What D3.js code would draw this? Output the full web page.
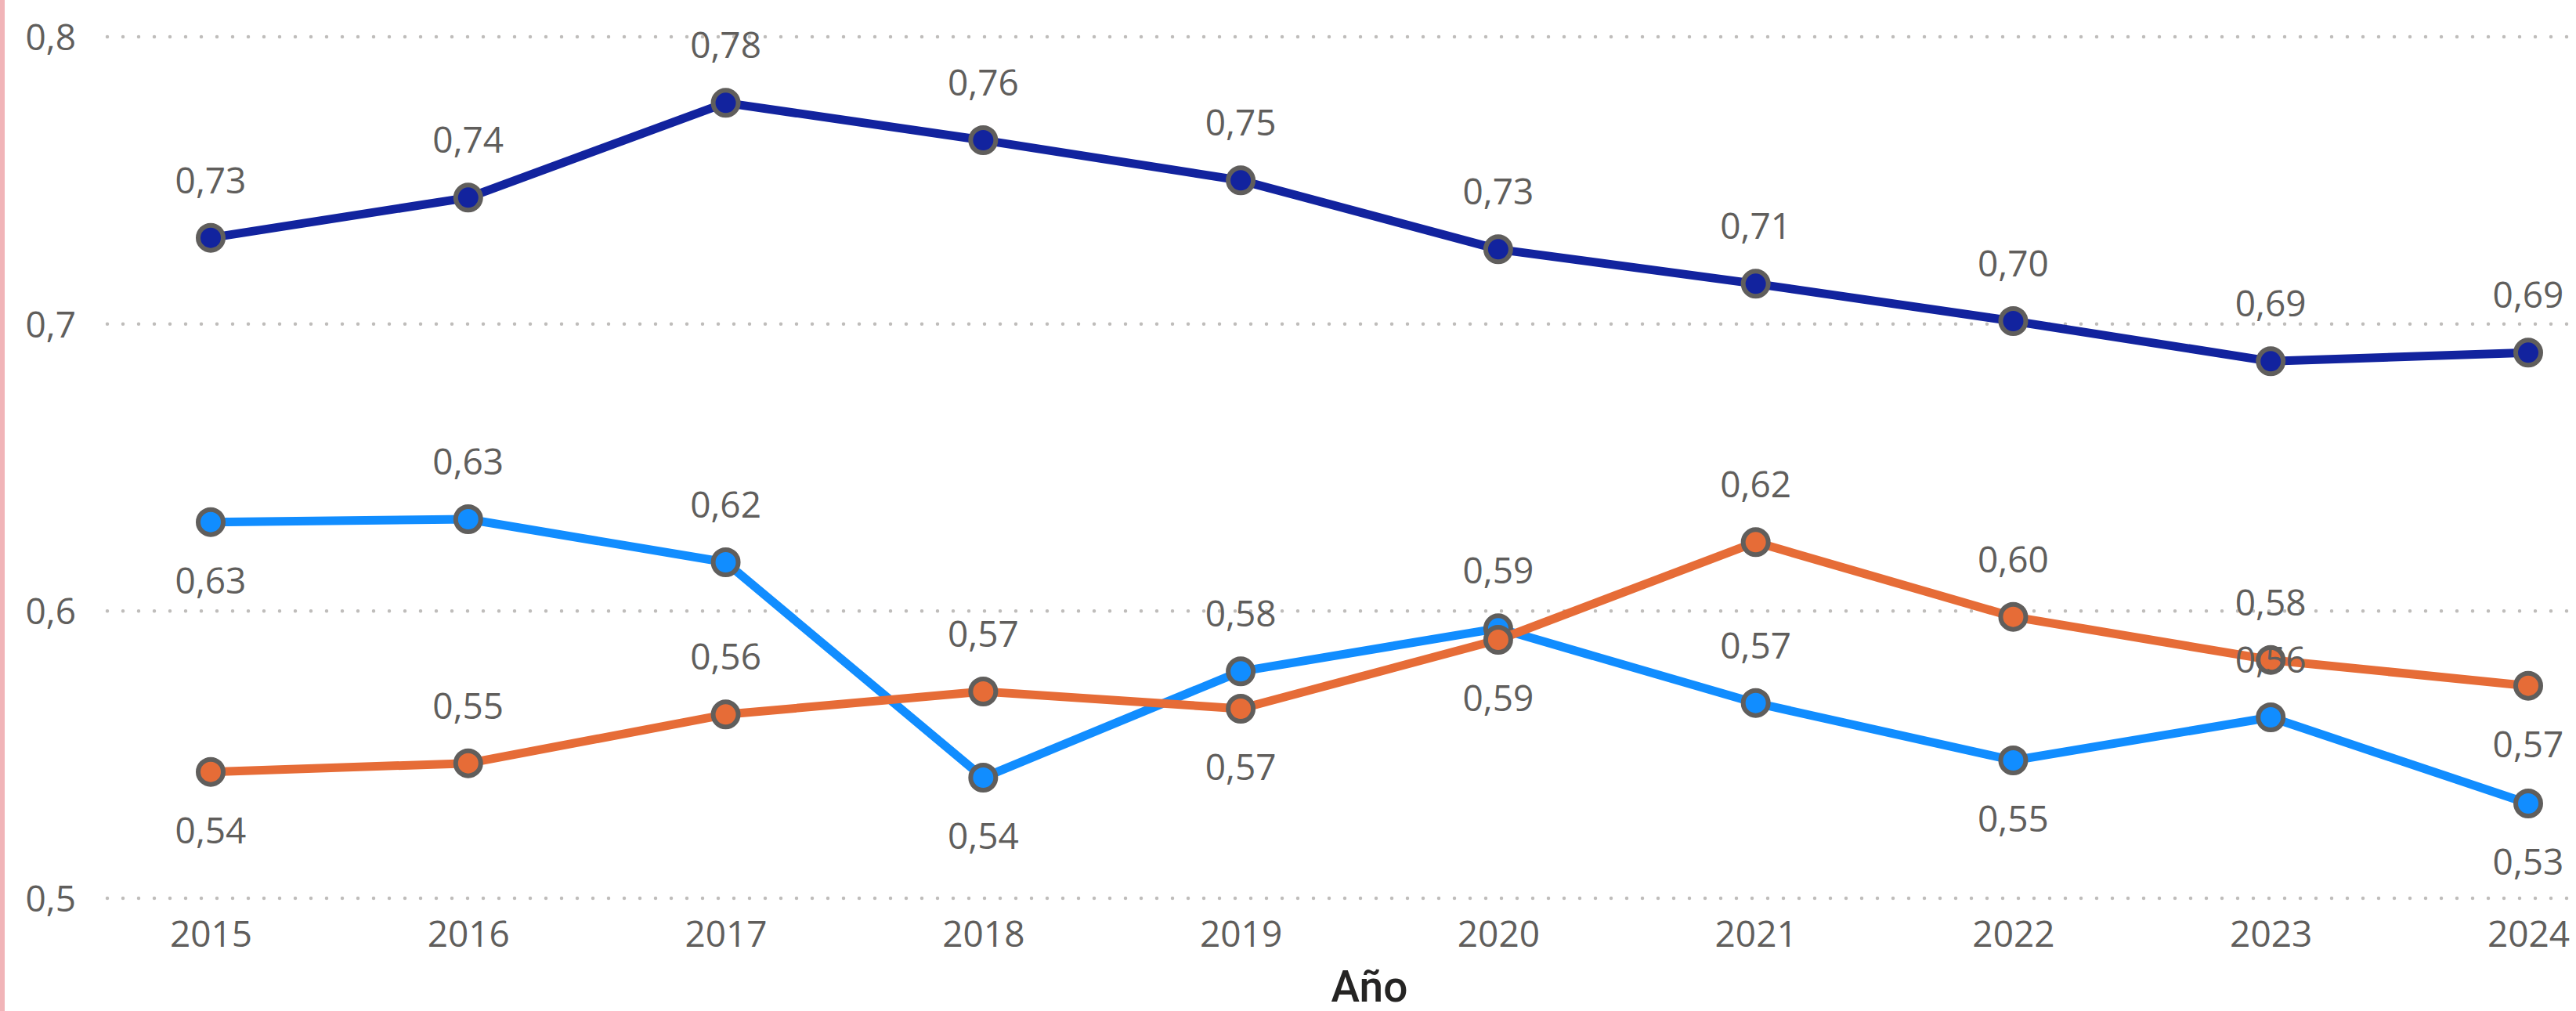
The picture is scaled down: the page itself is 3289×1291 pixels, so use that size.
<!DOCTYPE html>
<html>
<head>
<meta charset="utf-8">
<script src="https://cdn.jsdelivr.net/npm/d3@7"></script>
<style>
  html, body { margin: 0; padding: 0; background: #fff; }
  svg { display: block; }
</style>
</head>
<body>
<div id="chart"></div>
<script>
// years on the x axis
var years = ["2015", "2016", "2017", "2018", "2019", "2020", "2021", "2022", "2023", "2024"];
var yTicks = [0.5, 0.6, 0.7, 0.8];

// the three series
var darkBlue  = [0.730, 0.744, 0.777, 0.764, 0.750, 0.726, 0.714, 0.701, 0.687, 0.690];
var lightBlue = [0.631, 0.632, 0.617, 0.542, 0.579, 0.594, 0.568, 0.548, 0.563, 0.533];
var orange    = [0.544, 0.547, 0.564, 0.572, 0.566, 0.590, 0.624, 0.598, 0.583, 0.574];

// where each data label sits: "a" above the point, "b" below
var darkBlueLabelPos  = ["a","a","a","a","a","a","a","a","a","a"];
var lightBlueLabelPos = ["b","a","a","b","a","a","a","b","a","b"];
var orangeLabelPos    = ["b","a","a","a","b","b","a","a","a","b"];

var W = 3289, H = 1291;
var svg = d3.select("#chart").append("svg")
  .attr("width", W)
  .attr("height", H);

// pink strip on the left edge
svg.append("rect")
  .attr("x", 0).attr("y", 0)
  .attr("width", 6).attr("height", H)
  .attr("fill", "#f1b4b8");

var x = d3.scalePoint().domain(years).range([269, 3228]);
var y = d3.scaleLinear().domain([0.5, 0.8]).range([1147, 47]);

var fmt = function(v) { return d3.format(".2f")(v).replace(".", ","); };
var tickFmt = function(v) { return d3.format(".1f")(v).replace(".", ","); };

// dotted gridlines
svg.append("g").selectAll("line")
  .data(yTicks)
  .join("line")
    .attr("x1", 137).attr("x2", W)
    .attr("y1", d => y(d)).attr("y2", d => y(d))
    .attr("stroke", "#bfbdbb")
    .attr("stroke-width", 4.5)
    .attr("stroke-linecap", "round")
    .attr("stroke-dasharray", "0,20");

// y axis labels
var yAxis = d3.axisLeft(y).tickValues(yTicks).tickFormat(tickFmt).tickSize(0).tickPadding(0);
svg.append("g")
  .attr("transform", "translate(97,0)")
  .call(yAxis)
  .call(g => g.select(".domain").remove())
  .selectAll("text")
    .attr("font-family", "'Open Sans', 'Noto Sans', sans-serif")
    .attr("font-size", 46)
    .attr("fill", "#605e5c")
    .attr("dy", "0.36em");

// x axis labels
var xAxis = d3.axisBottom(x).tickSize(0).tickPadding(0);
svg.append("g")
  .attr("transform", "translate(0,1176)")
  .call(xAxis)
  .call(g => g.select(".domain").remove())
  .selectAll("text")
    .attr("font-family", "'Open Sans', 'Noto Sans', sans-serif")
    .attr("font-size", 46)
    .attr("fill", "#605e5c")
    .attr("dy", "0.71em");

// axis title
svg.append("text")
  .attr("x", (x("2015") + x("2024")) / 2)
  .attr("y", 1279)
  .attr("text-anchor", "middle")
  .attr("font-family", "Roboto, 'Liberation Sans', sans-serif")
  .attr("font-weight", 500)
  .attr("font-size", 55)
  .attr("fill", "#252423")
  .text("Año");

var series = [
  { values: darkBlue,  color: "#12239e", pos: darkBlueLabelPos },
  { values: lightBlue, color: "#118dff", pos: lightBlueLabelPos },
  { values: orange,    color: "#e66c37", pos: orangeLabelPos }
];

var line = d3.line()
  .x((d, i) => x(years[i]))
  .y(d => y(d));

series.forEach(function(s) {
  var g = svg.append("g");
  g.append("path")
    .datum(s.values)
    .attr("d", line)
    .attr("fill", "none")
    .attr("stroke", s.color)
    .attr("stroke-width", 11)
    .attr("stroke-linejoin", "round");
  g.selectAll("circle")
    .data(s.values)
    .join("circle")
      .attr("cx", (d, i) => x(years[i]))
      .attr("cy", d => y(d))
      .attr("r", 16)
      .attr("fill", s.color)
      .attr("stroke", "#605e5c")
      .attr("stroke-width", 6);
});

// data labels on top of everything
series.forEach(function(s) {
  svg.append("g").selectAll("text")
    .data(s.values)
    .join("text")
      .attr("x", (d, i) => x(years[i]))
      .attr("y", (d, i) => s.pos[i] === "a" ? y(d) - 57 : y(d) + 91)
      .attr("text-anchor", "middle")
      .attr("font-family", "'Open Sans', 'Noto Sans', sans-serif")
      .attr("font-size", 46)
      .attr("fill", "#605e5c")
      .text(d => fmt(d));
});
</script>
</body>
</html>
